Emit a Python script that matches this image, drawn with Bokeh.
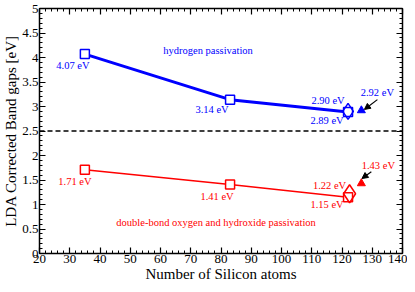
from bokeh.plotting import figure
from bokeh.models import (ColumnDataSource, SingleIntervalTicker, LinearAxis,
                          CustomJSTickFormatter, Span, Arrow, NormalHead, Range1d)
from bokeh.core.properties import value
from bokeh.embed import file_html
from bokeh.resources import INLINE

# ---- data ----
atoms = [35, 83, 122]
h_gap = [4.07, 3.14, 2.89]
o_gap = [1.71, 1.41, 1.15]
h_diamond_x = [122.0]
h_diamond = [2.90]
o_diamond_x = [122.5]
o_diamond = [1.22]
tri_x = [126.4]
h_tri = [2.92]
o_tri = [1.43]
ref_gap = 2.5

FONT = "Liberation Serif"
BLUE = "#0000ff"
RED = "#ff0000"

p = figure(width=407, height=284, x_range=Range1d(20, 140), y_range=Range1d(0, 5),
           output_backend="svg", toolbar_location=None,
           min_border_left=30, min_border_right=5, min_border_top=8, min_border_bottom=20)
p.grid.visible = False
p.outline_line_color = None
p.background_fill_color = "white"

xt = SingleIntervalTicker(interval=10, num_minor_ticks=5)
yt = SingleIntervalTicker(interval=0.5, num_minor_ticks=5)
yfmt = CustomJSTickFormatter(code="return String(Math.round(tick*10)/10);")
blank = CustomJSTickFormatter(code="return '';")

def style(ax):
    ax.axis_line_color = "black"
    ax.axis_line_width = 1.5
    ax.major_tick_in = 6
    ax.major_tick_out = 0
    ax.minor_tick_in = 3
    ax.minor_tick_out = 0
    ax.major_tick_line_color = "black"
    ax.minor_tick_line_color = "black"
    ax.major_tick_line_width = 1.2
    ax.major_label_text_font = FONT
    ax.major_label_text_font_size = "13px"
    ax.major_label_text_color = "black"
    ax.axis_label_text_font = FONT
    ax.axis_label_text_font_size = "15px"
    ax.axis_label_text_font_style = "normal"
    ax.axis_label_text_color = "black"
    ax.major_label_standoff = 1
    ax.axis_label_standoff = 0

p.xaxis.ticker = xt
p.yaxis.ticker = yt
p.yaxis.formatter = yfmt
p.xaxis.axis_label = "Number of Silicon atoms"
p.yaxis.axis_label = "LDA Corrected Band gaps [eV]"
style(p.xaxis[0])
style(p.yaxis[0])

top = LinearAxis(ticker=SingleIntervalTicker(interval=10, num_minor_ticks=5), formatter=blank)
right = LinearAxis(ticker=SingleIntervalTicker(interval=0.5, num_minor_ticks=5), formatter=blank)
style(top); style(right)
top.major_label_standoff = 0
right.major_label_standoff = 0
p.add_layout(top, "above")
p.add_layout(right, "right")

# reference dashed line
p.add_layout(Span(location=ref_gap, dimension="width", line_color="black",
                  line_dash="5 3", line_width=1.5))

# hydrogen series
p.line(atoms, h_gap, line_color=BLUE, line_width=3)
p.scatter(atoms, h_gap, marker="square", size=9, fill_color="white", line_color=BLUE, line_width=1.5)
p.scatter(h_diamond_x, h_diamond, marker="diamond", size=16, fill_color=None, line_color=BLUE, line_width=1.5)
p.scatter(tri_x, h_tri, marker="triangle", size=8, fill_color=BLUE, line_color=BLUE)

# oxygen series
p.line(atoms, o_gap, line_color=RED, line_width=1.5)
p.scatter(atoms, o_gap, marker="square", size=9, fill_color="white", line_color=RED, line_width=1.5)
p.scatter(o_diamond_x, o_diamond, marker="diamond", size=18, fill_color=None, line_color=RED, line_width=1.5)
p.scatter(tri_x, o_tri, marker="triangle", size=8, fill_color=RED, line_color=RED)

# value labels, positioned relative to their points
def fmt(v):
    return "%.2f eV" % v

lab_x = atoms + h_diamond_x + tri_x
lab_y = h_gap + h_diamond + h_tri
lab_dx = [-12, -18, -21, -20, 16]
lab_dy = [11, 10, 9, -11, -18]
src_h = ColumnDataSource(dict(x=lab_x, y=lab_y, t=[fmt(v) for v in lab_y], dx=lab_dx, dy=lab_dy))
p.text("x", "y", text="t", x_offset="dx", y_offset="dy", source=src_h,
       text_font=value(FONT), text_font_size="10.5px", text_color=BLUE,
       text_align="center", text_baseline="middle")

olab_x = atoms + o_diamond_x + tri_x
olab_y = o_gap + o_diamond + o_tri
olab_dx = [-10, -13, -21, -20, 17]
olab_dy = [12, 12, 7, -8, -18]
src_o = ColumnDataSource(dict(x=olab_x, y=olab_y, t=[fmt(v) for v in olab_y], dx=olab_dx, dy=olab_dy))
p.text("x", "y", text="t", x_offset="dx", y_offset="dy", source=src_o,
       text_font=value(FONT), text_font_size="10.5px", text_color=RED,
       text_align="center", text_baseline="middle")

# series captions
p.text([atoms[1]], [h_gap[1]], text=["hydrogen passivation"], x_offset=-22, y_offset=-49,
       text_font=value(FONT), text_font_size="10.5px", text_color=BLUE,
       text_align="center", text_baseline="middle")
p.text([atoms[1]], [o_gap[1]], text=["double-bond oxygen and hydroxide passivation"],
       x_offset=-14, y_offset=38,
       text_font=value(FONT), text_font_size="10.5px", text_color=RED,
       text_align="center", text_baseline="middle")

# arrows pointing at the triangles
p.add_layout(Arrow(x_start=tri_x[0] + 5.3, y_start=h_tri[0] + 0.22,
                   x_end=tri_x[0] + 1.0, y_end=h_tri[0] + 0.02,
                   line_color="black", line_width=1.2,
                   end=NormalHead(size=6, fill_color="black", line_color="black")))
p.add_layout(Arrow(x_start=tri_x[0] + 3.3, y_start=o_tri[0] + 0.24,
                   x_end=tri_x[0] + 0.2, y_end=o_tri[0] + 0.10,
                   line_color="black", line_width=1.2,
                   end=NormalHead(size=6, fill_color="black", line_color="black")))

open("out.html", "w").write(file_html(p, INLINE))
